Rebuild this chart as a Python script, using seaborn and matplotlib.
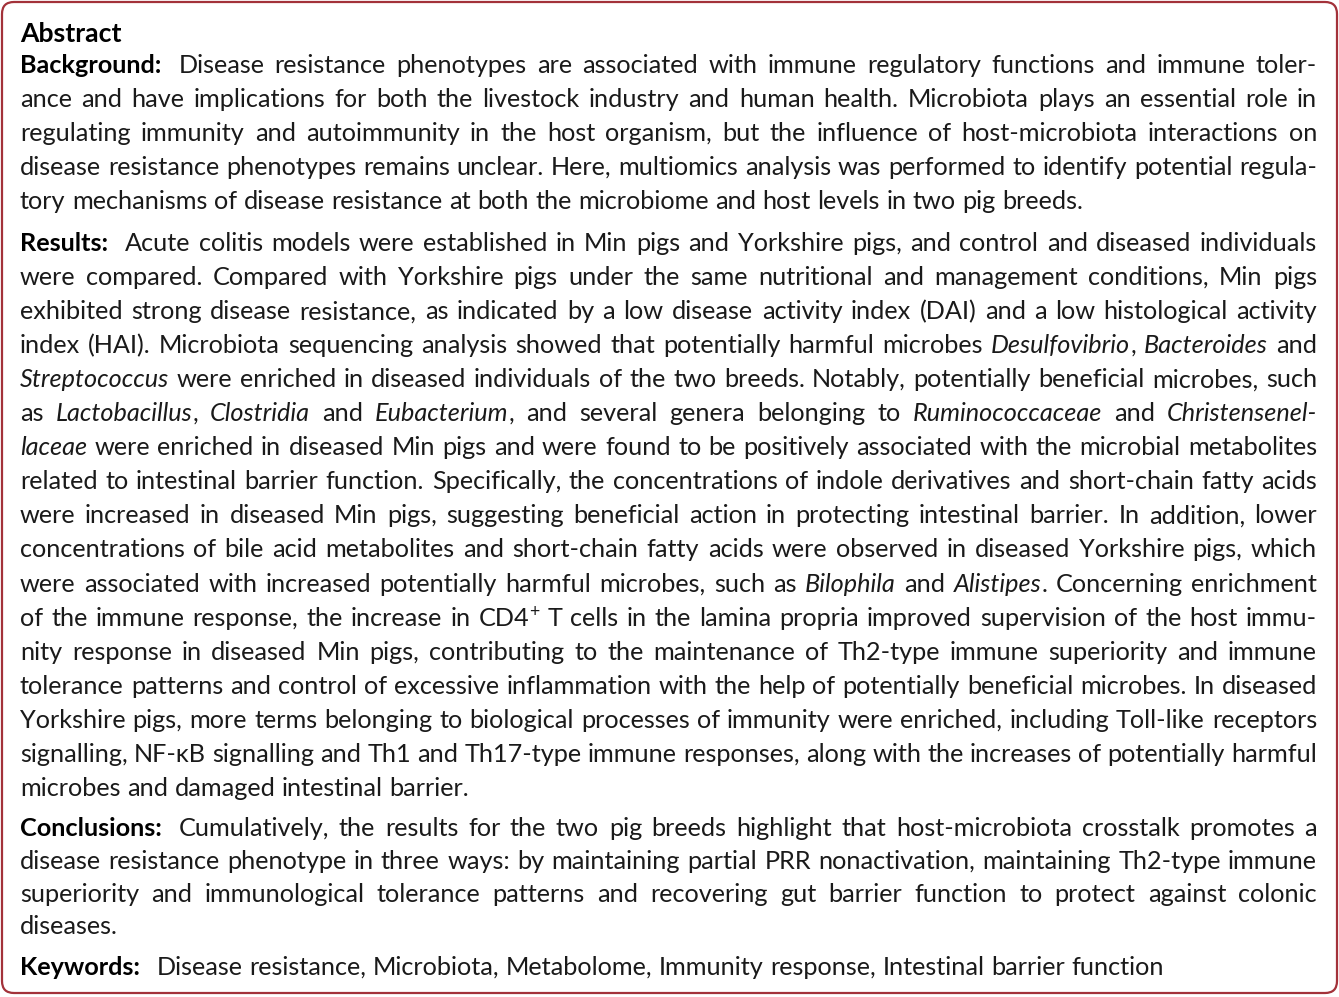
import re

import matplotlib
matplotlib.use("Agg")
import matplotlib.pyplot as plt
import seaborn as sns
from matplotlib.patches import FancyBboxPatch

sns.set_theme(style="white")
plt.rcParams["font.family"] = ["Lato", "DejaVu Sans"]

W, H = 1339, 997
FONT_SIZE = 18.2
TEXT_COLOR = "#1a1a1a"
BORDER_COLOR = "#a3323a"
LEFT, RIGHT = 20, 1317

title = "Abstract"

background_head = "Background:"
background_lines = [
    "Disease resistance phenotypes are associated with immune regulatory functions and immune toler-",
    "ance and have implications for both the livestock industry and human health. Microbiota plays an essential role in",
    "regulating immunity and autoimmunity in the host organism, but the influence of host-microbiota interactions on",
    "disease resistance phenotypes remains unclear. Here, multiomics analysis was performed to identify potential regula-",
    "tory mechanisms of disease resistance at both the microbiome and host levels in two pig breeds.",
]

results_head = "Results:"
results_lines = [
    "Acute colitis models were established in Min pigs and Yorkshire pigs, and control and diseased individuals",
    "were compared. Compared with Yorkshire pigs under the same nutritional and management conditions, Min pigs",
    "exhibited strong disease resistance, as indicated by a low disease activity index (DAI) and a low histological activity",
    "index (HAI). Microbiota sequencing analysis showed that potentially harmful microbes _Desulfovibrio_, _Bacteroides_ and",
    "_Streptococcus_ were enriched in diseased individuals of the two breeds. Notably, potentially beneficial microbes, such",
    "as _Lactobacillus_, _Clostridia_ and _Eubacterium_, and several genera belonging to _Ruminococcaceae_ and _Christensenel-_",
    "_laceae_ were enriched in diseased Min pigs and were found to be positively associated with the microbial metabolites",
    "related to intestinal barrier function. Specifically, the concentrations of indole derivatives and short-chain fatty acids",
    "were increased in diseased Min pigs, suggesting beneficial action in protecting intestinal barrier. In addition, lower",
    "concentrations of bile acid metabolites and short-chain fatty acids were observed in diseased Yorkshire pigs, which",
    "were associated with increased potentially harmful microbes, such as _Bilophila_ and _Alistipes_. Concerning enrichment",
    "of the immune response, the increase in CD4^+ T cells in the lamina propria improved supervision of the host immu-",
    "nity response in diseased Min pigs, contributing to the maintenance of Th2-type immune superiority and immune",
    "tolerance patterns and control of excessive inflammation with the help of potentially beneficial microbes. In diseased",
    "Yorkshire pigs, more terms belonging to biological processes of immunity were enriched, including Toll-like receptors",
    "signalling, NF-κB signalling and Th1 and Th17-type immune responses, along with the increases of potentially harmful",
    "microbes and damaged intestinal barrier.",
]

conclusions_head = "Conclusions:"
conclusions_lines = [
    "Cumulatively, the results for the two pig breeds highlight that host-microbiota crosstalk promotes a",
    "disease resistance phenotype in three ways: by maintaining partial PRR nonactivation, maintaining Th2-type immune",
    "superiority and immunological tolerance patterns and recovering gut barrier function to protect against colonic",
    "diseases.",
]

keywords_head = "Keywords:"
keywords_lines = [
    "Disease resistance, Microbiota, Metabolome, Immunity response, Intestinal barrier function",
]

# (heading, lines, first baseline, line step)
sections = [
    (background_head, background_lines, 73, 34.0),
    (results_head, results_lines, 251, 34.05),
    (conclusions_head, conclusions_lines, 836, 32.8),
    (keywords_head, keywords_lines, 975, 33.0),
]

fig = plt.figure(figsize=(W / 100, H / 100), dpi=100)
ax = fig.add_axes([0, 0, 1, 1])
ax.set_xlim(0, W)
ax.set_ylim(H, 0)
ax.axis("off")
renderer = fig.canvas.get_renderer()

ax.add_patch(FancyBboxPatch((2, 2), W - 4, H - 6, boxstyle="round,pad=0,rounding_size=12",
                            fill=False, edgecolor=BORDER_COLOR, linewidth=1.6))


def width_of(s, **kw):
    t = ax.text(0, 0, s, fontsize=kw.get("size", FONT_SIZE), fontweight=kw.get("weight", "normal"),
                fontstyle=kw.get("style", "normal"))
    w = t.get_window_extent(renderer).width
    t.remove()
    return w


SPACE = width_of("a a") - width_of("aa")


def word_pieces(word):
    # split a word into (text, style, superscript) pieces
    pieces = []
    for part in re.split(r"(_[^_]+_|\^\+)", word):
        if not part:
            continue
        if part.startswith("_") and part.endswith("_") and len(part) > 1:
            pieces.append((part[1:-1], "italic", False))
        elif part == "^+":
            pieces.append(("+", "normal", True))
        else:
            pieces.append((part, "normal", False))
    return pieces


def piece_width(p):
    txt, style, sup = p
    return width_of(txt, style=style, size=FONT_SIZE * 0.7 if sup else FONT_SIZE)


def draw_line(line, x0, y, justify):
    words = [word_pieces(w) for w in line.split(" ")]
    widths = [sum(piece_width(p) for p in w) for w in words]
    gap = SPACE
    if justify and len(words) > 1:
        gap = (RIGHT - x0 - sum(widths)) / (len(words) - 1)
    x = x0
    for w, ww in zip(words, widths):
        for txt, style, sup in w:
            size = FONT_SIZE * 0.7 if sup else FONT_SIZE
            ax.text(x, y - (9 if sup else 0), txt, fontsize=size, fontstyle=style,
                    color=TEXT_COLOR, va="baseline", ha="left")
            x += piece_width((txt, style, sup))
        x += gap


ax.text(LEFT, 42, title, fontsize=FONT_SIZE + 1, fontweight="bold", color="black", va="baseline")

for head, lines, y0, step in sections:
    ax.text(LEFT, y0, head, fontsize=FONT_SIZE, fontweight="bold", color="black", va="baseline")
    head_w = width_of(head, weight="bold") + 2.6 * SPACE
    for i, line in enumerate(lines):
        x0 = LEFT + head_w if i == 0 else LEFT
        draw_line(line, x0, y0 + i * step, justify=i < len(lines) - 1)

fig.savefig("out.png", dpi=100)
